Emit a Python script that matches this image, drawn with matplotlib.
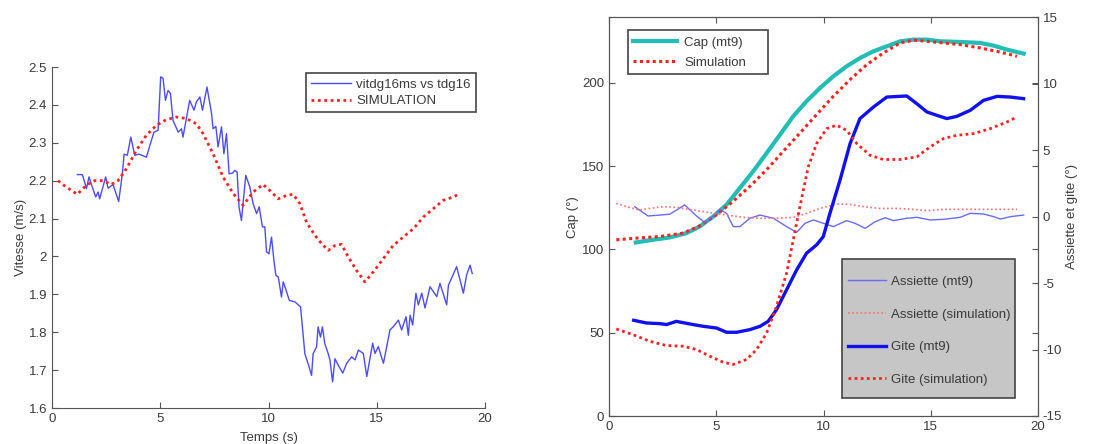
import matplotlib
matplotlib.use("Agg")
import matplotlib.pyplot as plt
from matplotlib.patches import Rectangle

plt.rcParams['font.family'] = ['Liberation Sans', 'DejaVu Sans']
plt.rcParams['axes.unicode_minus'] = False

# ---------------- Left chart data ----------------
t_vit = [1.17, 1.40, 1.51, 1.59, 1.71, 1.86, 2.02, 2.13, 2.20, 2.48, 2.59, 2.82, 3.08, 3.25, 3.33,
         3.48, 3.64, 3.82, 4.02, 4.36, 4.59, 4.71, 4.90, 5.02, 5.13, 5.24, 5.36, 5.47, 5.59, 5.83,
         5.98, 6.05, 6.36, 6.56, 6.67, 6.83, 6.95, 7.16, 7.37, 7.44, 7.57, 7.67, 7.83, 7.94, 8.06,
         8.18, 8.34, 8.44, 8.55, 8.64, 8.75, 8.95, 9.14, 9.29, 9.45, 9.57, 9.72, 9.83, 9.91, 10.02,
         10.14, 10.25, 10.34, 10.45, 10.60, 10.68, 10.79, 10.96, 11.22, 11.48, 11.68, 11.83, 11.99,
         12.06, 12.22, 12.29, 12.40, 12.49, 12.60, 12.76, 12.84, 12.96, 13.07, 13.22, 13.43, 13.61,
         13.84, 14.00, 14.15, 14.38, 14.54, 14.81, 14.92, 15.07, 15.31, 15.61, 15.77, 16.00, 16.15,
         16.35, 16.46, 16.54, 16.66, 16.81, 16.92, 17.08, 17.23, 17.46, 17.77, 17.92, 18.23, 18.31,
         18.69, 19.00, 19.15, 19.31, 19.41]
v_vit = [2.216, 2.216, 2.196, 2.179, 2.210, 2.183, 2.157, 2.170, 2.152, 2.210, 2.180, 2.190, 2.145,
         2.218, 2.270, 2.267, 2.315, 2.267, 2.270, 2.262, 2.306, 2.328, 2.333, 2.474, 2.470, 2.412,
         2.438, 2.430, 2.359, 2.328, 2.337, 2.315, 2.412, 2.386, 2.408, 2.421, 2.386, 2.447, 2.377,
         2.337, 2.343, 2.289, 2.342, 2.271, 2.324, 2.218, 2.220, 2.227, 2.223, 2.130, 2.095, 2.214,
         2.183, 2.139, 2.113, 2.131, 2.078, 2.078, 2.012, 2.007, 2.051, 1.990, 1.950, 1.946, 1.893,
         1.933, 1.915, 1.884, 1.880, 1.867, 1.743, 1.717, 1.686, 1.743, 1.761, 1.814, 1.787, 1.814,
         1.770, 1.743, 1.726, 1.669, 1.730, 1.713, 1.692, 1.718, 1.735, 1.727, 1.753, 1.744, 1.683,
         1.771, 1.744, 1.762, 1.718, 1.806, 1.815, 1.832, 1.806, 1.841, 1.792, 1.845, 1.819, 1.903,
         1.872, 1.903, 1.864, 1.920, 1.894, 1.929, 1.872, 1.924, 1.973, 1.903, 1.951, 1.977, 1.955]

t_sim = [0.28, 0.66, 1.17, 1.59, 1.97, 2.36, 2.74, 3.05, 3.44, 3.90, 4.36, 4.82, 5.28, 5.75, 6.21,
         6.67, 6.98, 7.44, 7.90, 8.37, 8.83, 9.29, 9.75, 10.06, 10.45, 10.83, 11.14, 11.45, 11.76,
         12.14, 12.45, 12.76, 13.07, 13.37, 13.68, 14.07, 14.45, 14.84, 15.30, 15.76, 16.22, 16.69,
         17.15, 17.61, 18.07, 18.54, 18.84]
v_sim = [2.200, 2.183, 2.164, 2.188, 2.200, 2.200, 2.190, 2.200, 2.232, 2.280, 2.320, 2.346, 2.361,
         2.368, 2.364, 2.350, 2.324, 2.271, 2.210, 2.166, 2.135, 2.170, 2.190, 2.174, 2.152, 2.161,
         2.164, 2.139, 2.090, 2.056, 2.034, 2.016, 2.029, 2.032, 1.999, 1.963, 1.933, 1.959, 1.994,
         2.029, 2.051, 2.073, 2.104, 2.126, 2.148, 2.157, 2.166]

left_xticks = [0, 5, 10, 15, 20]
left_yticks = [1.6, 1.7, 1.8, 1.9, 2.0, 2.1, 2.2, 2.3, 2.4, 2.5]
left_ytick_labels = ['1.6', '1.7', '1.8', '1.9', '2', '2.1', '2.2', '2.3', '2.4', '2.5']

# ---------------- Right chart data ----------------
t_cap = [1.25, 2.05, 2.83, 3.61, 4.23, 4.86, 5.48, 6.10, 6.72, 7.35, 7.97, 8.59, 9.21, 9.84, 10.46,
         11.08, 11.71, 12.33, 12.95, 13.58, 14.20, 14.82, 15.44, 16.37, 17.31, 17.93, 18.55, 19.33]
cap = [104.2, 105.8, 107.2, 109.8, 113.8, 119.8, 126.9, 136.9, 146.9, 157.9, 168.9, 180.0, 189.0,
       197.0, 204.0, 210.0, 215.0, 219.0, 222.0, 225.0, 226.0, 226.0, 225.0, 224.6, 224.0, 222.4,
       220.0, 217.6]

t_cap_sim = [0.34, 1.28, 2.37, 3.46, 4.23, 5.01, 5.79, 6.57, 7.35, 8.12, 8.90, 9.68, 10.46, 11.24,
             12.02, 12.79, 13.57, 14.19, 14.82, 15.60, 16.37, 17.31, 18.24, 19.02]
cap_sim = [105.8, 106.8, 107.8, 109.8, 114.2, 120.8, 128.9, 137.9, 147.9, 158.9, 169.9, 181.0,
           192.0, 202.0, 211.0, 218.0, 224.0, 225.7, 225.0, 224.0, 223.0, 221.0, 218.5, 216.0]

t_gite = [1.15, 1.74, 2.37, 2.68, 3.14, 3.92, 4.39, 5.01, 5.48, 5.95, 6.57, 7.04, 7.42, 7.81, 8.28,
          8.75, 9.21, 9.68, 9.99, 10.30, 10.77, 11.24, 11.70, 12.33, 12.95, 13.88, 14.35, 14.82,
          15.29, 15.75, 16.22, 16.84, 17.46, 18.09, 18.71, 19.33]
gite = [-7.8, -8.0, -8.05, -8.12, -7.88, -8.12, -8.25, -8.38, -8.7, -8.7, -8.5, -8.25, -7.88, -7.0,
        -5.5, -4.0, -2.75, -2.12, -1.5, 0.25, 2.75, 5.5, 7.38, 8.25, 9.0, 9.08, 8.5, 7.88, 7.62,
        7.38, 7.55, 8.0, 8.75, 9.05, 9.0, 8.88]

t_gite_sim = [0.34, 1.12, 1.90, 2.68, 3.46, 4.08, 4.70, 5.32, 5.79, 6.41, 6.88, 7.35, 7.81, 8.28,
              8.59, 8.90, 9.29, 9.68, 10.15, 10.61, 11.08, 11.55, 12.17, 12.79, 13.57, 14.35, 14.97,
              15.60, 16.22, 17.00, 17.77, 18.55, 19.02]
gite_sim = [-8.45, -8.88, -9.38, -9.7, -9.75, -10.0, -10.5, -10.95, -11.12, -10.75, -10.0, -8.75,
            -6.75, -4.25, -1.75, 0.75, 3.75, 5.5, 6.62, 6.88, 6.5, 5.5, 4.62, 4.3, 4.3, 4.5, 5.25,
            5.88, 6.12, 6.25, 6.62, 7.12, 7.5]

t_ass = [1.20, 1.82, 2.37, 2.83, 3.53, 4.08, 4.47, 4.82, 5.17, 5.48, 5.79, 6.10, 6.57, 7.04, 7.66,
         8.28, 8.75, 9.14, 9.53, 9.99, 10.46, 11.08, 11.47, 11.94, 12.41, 12.88, 13.26, 13.88,
         14.35, 14.97, 15.60, 16.37, 16.84, 17.46, 17.93, 18.24, 18.71, 19.33]
ass = [0.75, 0.05, 0.12, 0.18, 0.88, 0.05, -0.45, 0.0, 0.55, 0.25, -0.75, -0.75, -0.12, 0.12,
       -0.12, -0.75, -1.18, -0.5, -0.25, -0.5, -0.75, -0.3, -0.5, -0.88, -0.38, -0.08, -0.3,
       -0.12, -0.05, -0.25, -0.2, -0.05, 0.25, 0.2, 0.0, -0.18, 0.0, 0.12]

t_ass_sim = [0.34, 0.81, 1.43, 1.90, 2.52, 3.14, 3.92, 4.70, 5.48, 6.26, 7.04, 7.81, 8.59, 9.21,
             9.84, 10.61, 11.24, 11.86, 12.64, 13.42, 14.19, 14.82, 15.60, 17.15, 19.02]
ass_sim = [1.0, 0.75, 0.5, 0.62, 0.75, 0.7, 0.5, 0.3, 0.12, -0.05, -0.12, -0.12, -0.05, 0.25, 0.62,
           0.95, 0.92, 0.75, 0.62, 0.62, 0.55, 0.45, 0.55, 0.55, 0.55]

right_xticks = [0, 5, 10, 15, 20]
cap_yticks = [0, 50, 100, 150, 200]
ang_yticks = [-15, -10, -5, 0, 5, 10, 15]

# ---------------- Figure ----------------
TXT = '#3a3a3a'
SPINE = '#555555'
FS = 9.5

fig = plt.figure(figsize=(10.95, 4.44), dpi=100)

# Left axes
axL = fig.add_axes([52 / 1095, 1 - 408 / 444, 433 / 1095, 341 / 444])
axL.plot(t_vit, v_vit, color='#4b4bff', lw=1.0, label='vitdg16ms vs tdg16')
axL.plot(t_sim, v_sim, color='#ff2020', lw=2.0, ls=(0, (1, 1.3)), label='SIMULATION')
axL.set_xlim(0, 20)
axL.set_ylim(1.6, 2.5)
axL.set_xticks(left_xticks)
axL.set_yticks(left_yticks)
axL.set_yticklabels(left_ytick_labels)
axL.spines['top'].set_visible(False)
axL.spines['right'].set_visible(False)
for s in ('left', 'bottom'):
    axL.spines[s].set_color(SPINE)
axL.tick_params(direction='in', length=4, colors=SPINE, labelcolor=TXT, labelsize=FS)
axL.set_xlabel('Temps (s)', color=TXT, fontsize=FS, labelpad=5)
axL.set_ylabel('Vitesse (m/s)', color=TXT, fontsize=FS, labelpad=1)
legL = axL.legend(loc='upper right', bbox_to_anchor=(0.979, 0.981), borderaxespad=0,
                  fontsize=FS, fancybox=False, edgecolor='#444444', framealpha=1,
                  handlelength=3.0, handletextpad=0.4, labelspacing=0.3, borderpad=0.4)
legL.get_frame().set_linewidth(1.2)
for t in legL.get_texts():
    t.set_color(TXT)

# Right axes
axR = fig.add_axes([609 / 1095, 1 - 416 / 444, 429 / 1095, 398.7 / 444])
axR2 = axR.twinx()
axR.plot(t_cap, cap, color='#22bdb5', lw=3.0, label='Cap (mt9)', zorder=3)
axR.plot(t_cap_sim, cap_sim, color='#ff2020', lw=2.2, ls=(0, (1, 1.1)), label='Simulation', zorder=4)
axR.set_xlim(0, 20)
axR.set_ylim(0, 239.4)
axR.set_xticks(right_xticks)
axR.set_yticks(cap_yticks)
axR.tick_params(direction='in', length=4, colors=SPINE, labelcolor=TXT, labelsize=FS,
                top=True, right=True)
axR.set_ylabel('Cap (°)', color=TXT, fontsize=FS, labelpad=2)

axR2.plot(t_ass, ass, color='#6a6aff', lw=1.0, label='Assiette (mt9)')
axR2.plot(t_ass_sim, ass_sim, color='#ff7070', lw=1.2, ls=(0, (1, 1.5)), label='Assiette (simulation)')
axR2.plot(t_gite, gite, color='#1010f0', lw=2.4, label='Gite (mt9)')
axR2.plot(t_gite_sim, gite_sim, color='#ff2020', lw=2.0, ls=(0, (1, 1.2)), label='Gite (simulation)')
axR2.set_ylim(-15, 15)
axR2.set_yticks(ang_yticks)
axR2.tick_params(direction='in', length=4, colors=SPINE, labelcolor=TXT, labelsize=FS)
axR2.set_ylabel('Assiette et gite (°)', color=TXT, fontsize=FS, labelpad=3)
for ax in (axR, axR2):
    for s in ax.spines.values():
        s.set_color(SPINE)

# Legend 1 (white box, manual frame)
axR2.add_patch(Rectangle((0.045, 0.857), 0.326, 0.111, transform=axR2.transAxes,
                         facecolor='white', edgecolor='#444444', lw=1.2, zorder=4.5))
leg1 = axR.legend(loc='upper left', bbox_to_anchor=(0.055, 0.951), borderaxespad=0,
                  fontsize=FS, frameon=False, handlelength=3.4, handletextpad=0.5,
                  labelspacing=0.55, borderpad=0.0)
for t in leg1.get_texts():
    t.set_color(TXT)
leg1.remove()
axR2.add_artist(leg1)
leg1.set_zorder(6)

# Legend 2 (grey box, manual frame)
axR2.add_patch(Rectangle((0.542, 0.044), 0.404, 0.350, transform=axR2.transAxes,
                         facecolor='#c6c6c6', edgecolor='#444444', lw=1.2, zorder=4.5))
leg2 = axR2.legend(loc='upper left', bbox_to_anchor=(0.556, 0.352), borderaxespad=0,
                   fontsize=FS, frameon=False, handlelength=2.9, handletextpad=0.4,
                   labelspacing=1.55, borderpad=0.0)
leg2.set_zorder(6)
for t in leg2.get_texts():
    t.set_color(TXT)

fig.savefig('out.png', dpi=100)
